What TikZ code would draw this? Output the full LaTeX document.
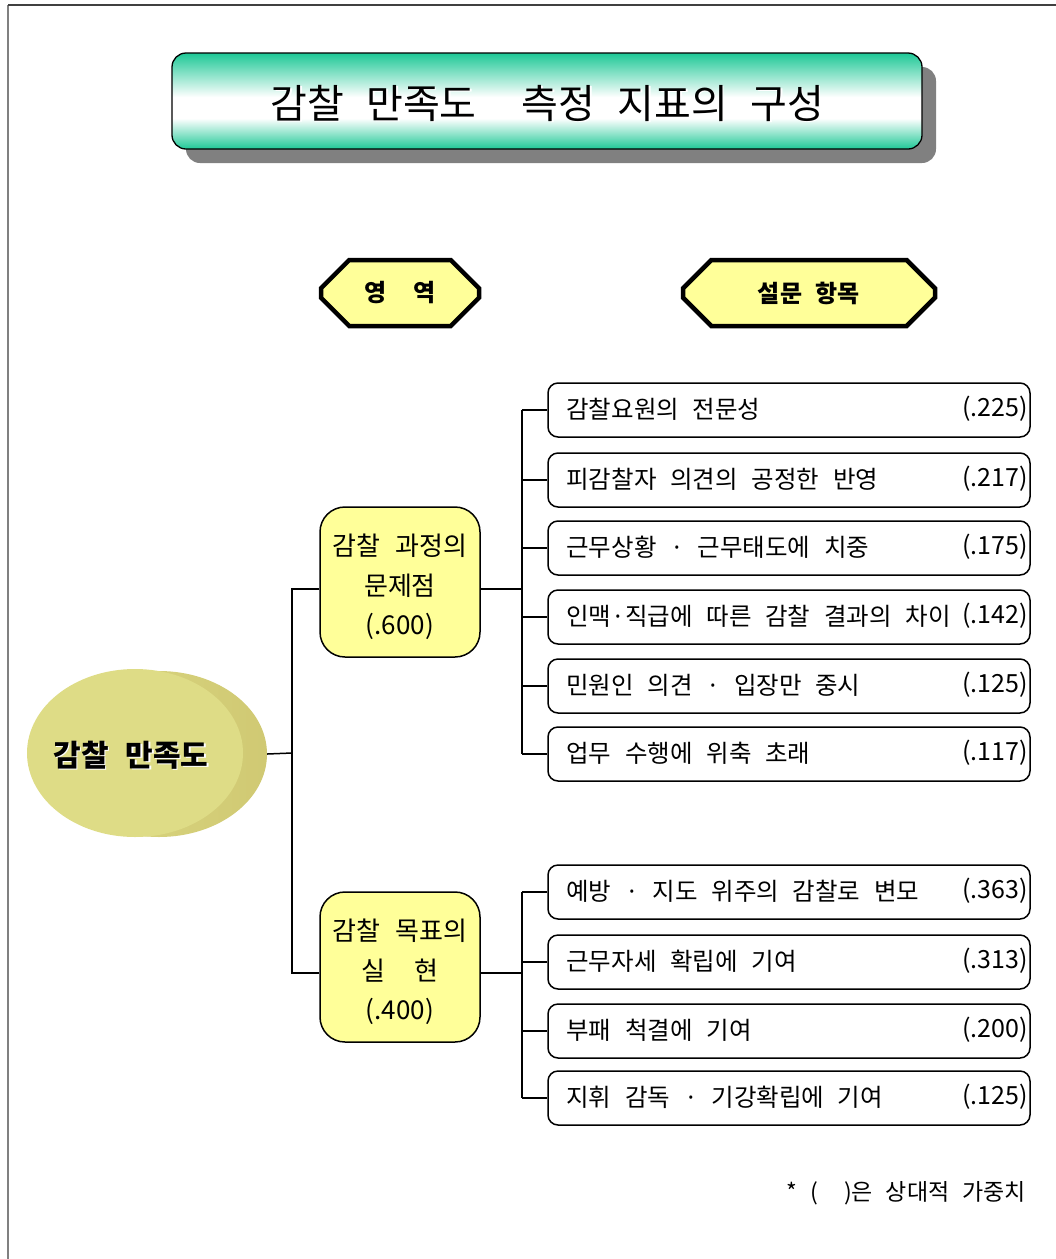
\documentclass[tikz,border=0pt]{standalone}
\usepackage{fontspec}
\setmainfont{Noto Sans CJK KR}
\newfontfamily\kr[WordSpace=3]{Noto Sans CJK KR}
\newfontfamily\krt[WordSpace=2.5]{Noto Sans CJK KR}
\usetikzlibrary{shapes.geometric,shapes.misc,shadings}
\definecolor{teal1}{RGB}{30,200,150}
\definecolor{lyel}{RGB}{255,255,153}
\definecolor{ellf}{RGB}{222,220,134}
\definecolor{ells}{RGB}{208,201,115}
\definecolor{shadowgray}{RGB}{128,128,128}
\pgfdeclareverticalshading{titleshade}{100bp}{color(0bp)=(teal1); color(25bp)=(teal1); color(41bp)=(white); color(52bp)=(white); color(75bp)=(teal1); color(100bp)=(teal1)}
\begin{document}
\begin{tikzpicture}[x=1pt,y=-1pt,
  conn/.style={line width=1.5pt, black},
  titlebox/.style={draw=black, line width=1.3pt, rounded corners=14pt, shading=titleshade, minimum width=750pt, minimum height=96pt},
  headbox/.style={chamfered rectangle, chamfered rectangle xsep=20pt, chamfered rectangle ysep=17pt, draw=black, line width=4.5pt, fill=lyel, minimum height=66pt, inner sep=0pt, font=\kr\bfseries\fontsize{24}{30}\selectfont},
  catbox/.style={draw=black, line width=1.5pt, rounded corners=25pt, fill=lyel, minimum width=160pt, minimum height=150pt, inner sep=0pt},
  cattxt/.style={align=center, inner sep=0pt, font=\kr\fontsize{26}{39.5}\selectfont},
  itembox/.style={draw=black, line width=1.5pt, rounded corners=10pt, minimum width=482pt, minimum height=54pt, inner sep=0pt},
  itemtxt/.style={anchor=west, inner sep=0pt, font=\kr\fontsize{24.5}{29}\selectfont},
  itemval/.style={anchor=east, inner sep=0pt, font=\kr\fontsize{25}{29}\selectfont}
]
\useasboundingbox (0,0) rectangle (1056,1259);
% frame
\draw[shadowgray, line width=2.5pt] (8,1259) -- (8,5);
\draw[black!75, line width=2pt] (8,5) -- (1056,5);

% title
\fill[shadowgray, rounded corners=14pt] (186,67) rectangle (936,163);
\node[titlebox] (title) at (547,101) {};
\node[white, font=\krt\fontsize{40}{48}\selectfont] (titletxtsh) at ([xshift=1.8pt,yshift=-3.8pt]title.center) {감찰 만족도\ \ 측정 지표의 구성};
\node[black, font=\krt\fontsize{40}{48}\selectfont] (titletxt) at ([yshift=-2pt]title.center) {감찰 만족도\ \ 측정 지표의 구성};

% headers
\node[headbox, minimum width=158pt] (h1) at (400,293) {영\ \ 역};
\node[headbox, minimum width=252pt] (h2) at (809,293) {설문 항목};

% root ellipse (3D)
\node[ellipse, shade, left color=ellf!80!ells, right color=ells, minimum width=216pt, minimum height=166pt, inner sep=0pt] (rootback) at (159,754) {};
\node[ellipse, fill=ellf, minimum width=216pt, minimum height=168pt, inner sep=0pt] (root) at (135,753) {};
\node[white, font=\krt\bfseries\fontsize{30}{36}\selectfont] (roottxtsh) at ([xshift=1.5pt,yshift=-1.5pt]131,755) {감찰 만족도};
\node[black, font=\krt\bfseries\fontsize{30}{36}\selectfont] (roottxt) at (131,755) {감찰 만족도};

% category boxes
\node[catbox] (c1) at (400,582) {};
\node[cattxt] (c1t) at ([yshift=-5pt]c1.center) {감찰 과정의\\문제점\\(.600)};
\node[catbox] (c2) at (400,967) {};
\node[cattxt] (c2t) at ([yshift=-5pt]c2.center) {감찰 목표의\\실\ \ 현\\(.400)};

% item boxes
\foreach \n/\y in {1/410,2/480,3/548,4/617,5/686,6/754,7/892,8/962,9/1031,10/1098}{
  \node[itembox] (i\n) at (789,\y) {};
}
\foreach \n/\t/\v in {1/감찰요원의 전문성/(.225), 2/피감찰자 의견의 공정한 반영/(.217), 3/근무상황 · 근무태도에 치중/(.175), 4/인맥·직급에 따른 감찰 결과의 차이/(.142), 5/민원인 의견 · 입장만 중시/(.125), 6/업무 수행에 위축 초래/(.117), 7/예방 · 지도 위주의 감찰로 변모/(.363), 8/근무자세 확립에 기여/(.313), 9/부패 척결에 기여/(.200), 10/지휘 감독 · 기강확립에 기여/(.125)}{
  \node[itemtxt] (t\n) at ([xshift=19pt,yshift=1pt]i\n.west) {\t};
  \node[itemval] (v\n) at ([xshift=-3pt,yshift=1pt]i\n.east) {\v};
}

% connectors
\draw[conn] (rootback.east) -- (292,753) coordinate (trunk);
\draw[conn] ([yshift=-7pt]c1.west) -| (trunk) |- ([yshift=-6pt]c2.west);
\draw[conn] ([yshift=-7pt]c1.east) -- ++(41,0) coordinate (j1);
\draw[conn] (j1 |- i1.west) -- (j1 |- i6.west);
\foreach \n in {1,...,6}{ \draw[conn] (j1 |- i\n.west) -- (i\n.west); }
\draw[conn] ([yshift=-6pt]c2.east) -- ++(41,0) coordinate (j2);
\draw[conn] (j2 |- i7.west) -- (j2 |- i10.west);
\foreach \n in {7,...,10}{ \draw[conn] (j2 |- i\n.west) -- (i\n.west); }

% footnote
\node[anchor=east, inner sep=0pt, font=\kr\fontsize{23}{28}\selectfont] (note) at (1026,1193) {* (\ \ )은 상대적 가중치};
\end{tikzpicture}
\end{document}
